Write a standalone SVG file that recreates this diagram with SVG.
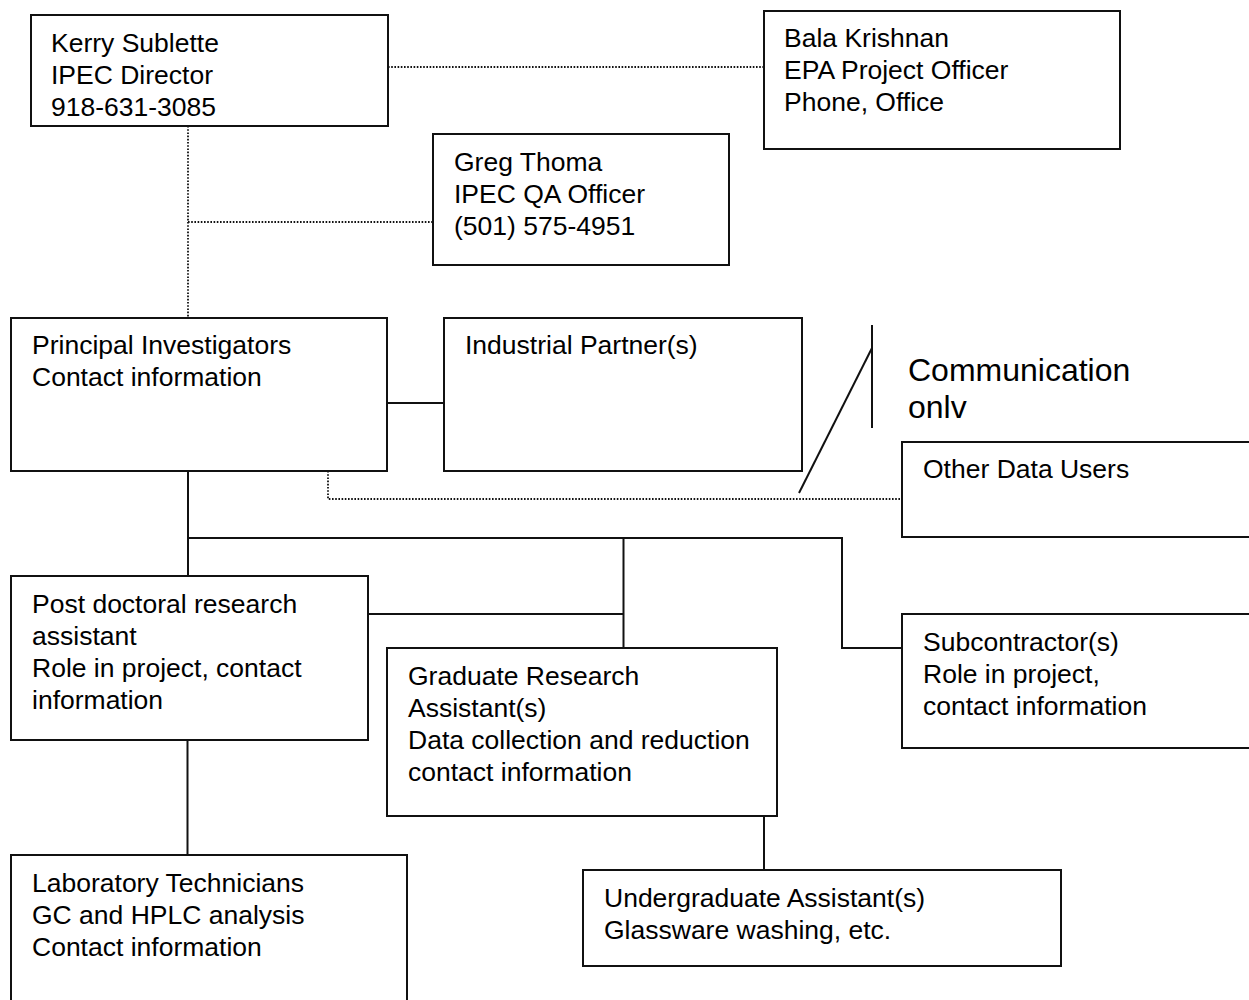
<svg xmlns="http://www.w3.org/2000/svg" width="1249" height="1000" viewBox="0 0 1249 1000">
<style>
.box{fill:#fff;stroke:#111;stroke-width:2}
.t{font-family:"Liberation Sans",Arial,sans-serif;font-size:26.5px;fill:#000}
.big{font-family:"Liberation Sans",Arial,sans-serif;font-size:32px;fill:#000}
.solid{fill:none;stroke:#111;stroke-width:2}
.dot{fill:none;stroke:#111;stroke-width:1.8;stroke-dasharray:1.6 1.6}
</style>
<rect width="1249" height="1000" fill="#fff"/>
<g id="connectors">
<path class="dot" d="M388,67 H764"/>
<path class="dot" d="M188,126 V318"/>
<path class="dot" d="M188,222 H433"/>
<path class="dot" d="M328,471 V499 H902"/>
<path class="solid" d="M387,403 H444"/>
<path class="solid" d="M872,325 V428"/>
<path class="solid" d="M872,348 L799,493"/>
<path class="solid" d="M188,471 V576"/>
<path class="solid" d="M188,538 H842 V648 H902"/>
<path class="solid" d="M623.5,538 V653"/>
<path class="solid" d="M368,614 H623.5"/>
<path class="solid" d="M187.5,740 V855"/>
<path class="solid" d="M764,816 V870"/>
</g>
<g id="kerry"><rect class="box" x="31" y="15" width="357" height="111"/>
<text class="t" x="51" y="52">Kerry Sublette</text><text class="t" x="51" y="84">IPEC Director</text><text class="t" x="51" y="116">918-631-3085</text></g>
<g id="bala"><rect class="box" x="764" y="11" width="356" height="138"/>
<text class="t" x="784" y="47">Bala Krishnan</text><text class="t" x="784" y="79">EPA Project Officer</text><text class="t" x="784" y="111">Phone, Office</text></g>
<g id="greg"><rect class="box" x="433" y="134" width="296" height="131"/>
<text class="t" x="454" y="171">Greg Thoma</text><text class="t" x="454" y="203">IPEC QA Officer</text><text class="t" x="454" y="235">(501) 575-4951</text></g>
<g id="principal"><rect class="box" x="11" y="318" width="376" height="153"/>
<text class="t" x="32" y="354">Principal Investigators</text><text class="t" x="32" y="386">Contact information</text></g>
<g id="industrial"><rect class="box" x="444" y="318" width="358" height="153"/>
<text class="t" x="465" y="354">Industrial Partner(s)</text></g>
<g id="communication"><text class="big" x="908" y="381">Communication</text><text class="big" x="908" y="418">onlv</text></g>
<g id="otherdata"><rect class="box" x="902" y="442" width="360" height="95"/>
<text class="t" x="923" y="478">Other Data Users</text></g>
<g id="postdoc"><rect class="box" x="11" y="576" width="357" height="164"/>
<text class="t" x="32" y="613">Post doctoral research</text><text class="t" x="32" y="645">assistant</text><text class="t" x="32" y="677">Role in project, contact</text><text class="t" x="32" y="709">information</text></g>
<g id="subcontractor"><rect class="box" x="902" y="614" width="360" height="134"/>
<text class="t" x="923" y="651">Subcontractor(s)</text><text class="t" x="923" y="683">Role in project,</text><text class="t" x="923" y="715">contact information</text></g>
<g id="graduate"><rect class="box" x="387" y="648" width="390" height="168"/>
<text class="t" x="408" y="685">Graduate Research</text><text class="t" x="408" y="717">Assistant(s)</text><text class="t" x="408" y="749">Data collection and reduction</text><text class="t" x="408" y="781">contact information</text></g>
<g id="lab"><rect class="box" x="11" y="855" width="396" height="160"/>
<text class="t" x="32" y="892">Laboratory Technicians</text><text class="t" x="32" y="924">GC and HPLC analysis</text><text class="t" x="32" y="956">Contact information</text></g>
<g id="undergrad"><rect class="box" x="583" y="870" width="478" height="96"/>
<text class="t" x="604" y="907">Undergraduate Assistant(s)</text><text class="t" x="604" y="939">Glassware washing, etc.</text></g>
</svg>
